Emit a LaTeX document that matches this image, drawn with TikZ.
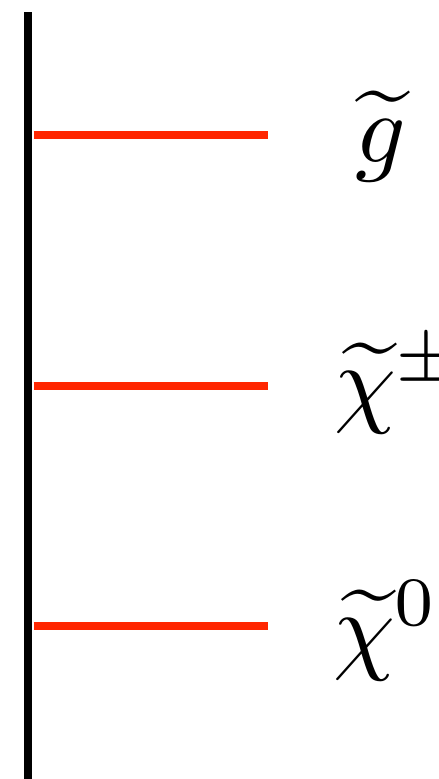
\documentclass[tikz,border=0pt]{standalone}
\definecolor{levelred}{RGB}{255,38,0}
\begin{document}
\begin{tikzpicture}[x=1pt,y=1pt,
  axisline/.style={line width=8pt,black},
  levelline/.style={line width=8pt,levelred},
  lab/.style={inner sep=0pt,outer sep=0pt,anchor=base west,scale=9.9,transform shape}]
\useasboundingbox (0,0) rectangle (439,779);
\coordinate (axtop) at (28,766.5);
\coordinate (axbot) at (28,0);
\draw[axisline] (axtop) -- (axbot);
% levels
\coordinate (g0) at (33.5,644);
\coordinate (g1) at (268,644);
\coordinate (c0) at (33.5,393);
\coordinate (c1) at (268,393);
\coordinate (n0) at (33.5,153);
\coordinate (n1) at (268,153);
\draw[levelline] (g0) -- (g1);
\draw[levelline] (c0) -- (c1);
\draw[levelline] (n0) -- (n1);
\node[lab] (gl) at (355,616) {$\widetilde{g}$};
\node[lab] (cl) at (334,364) {$\widetilde{\chi}^{\pm}$};
\node[lab] (nl) at (333,118) {$\widetilde{\chi}^{0}$};
\end{tikzpicture}
\end{document}
